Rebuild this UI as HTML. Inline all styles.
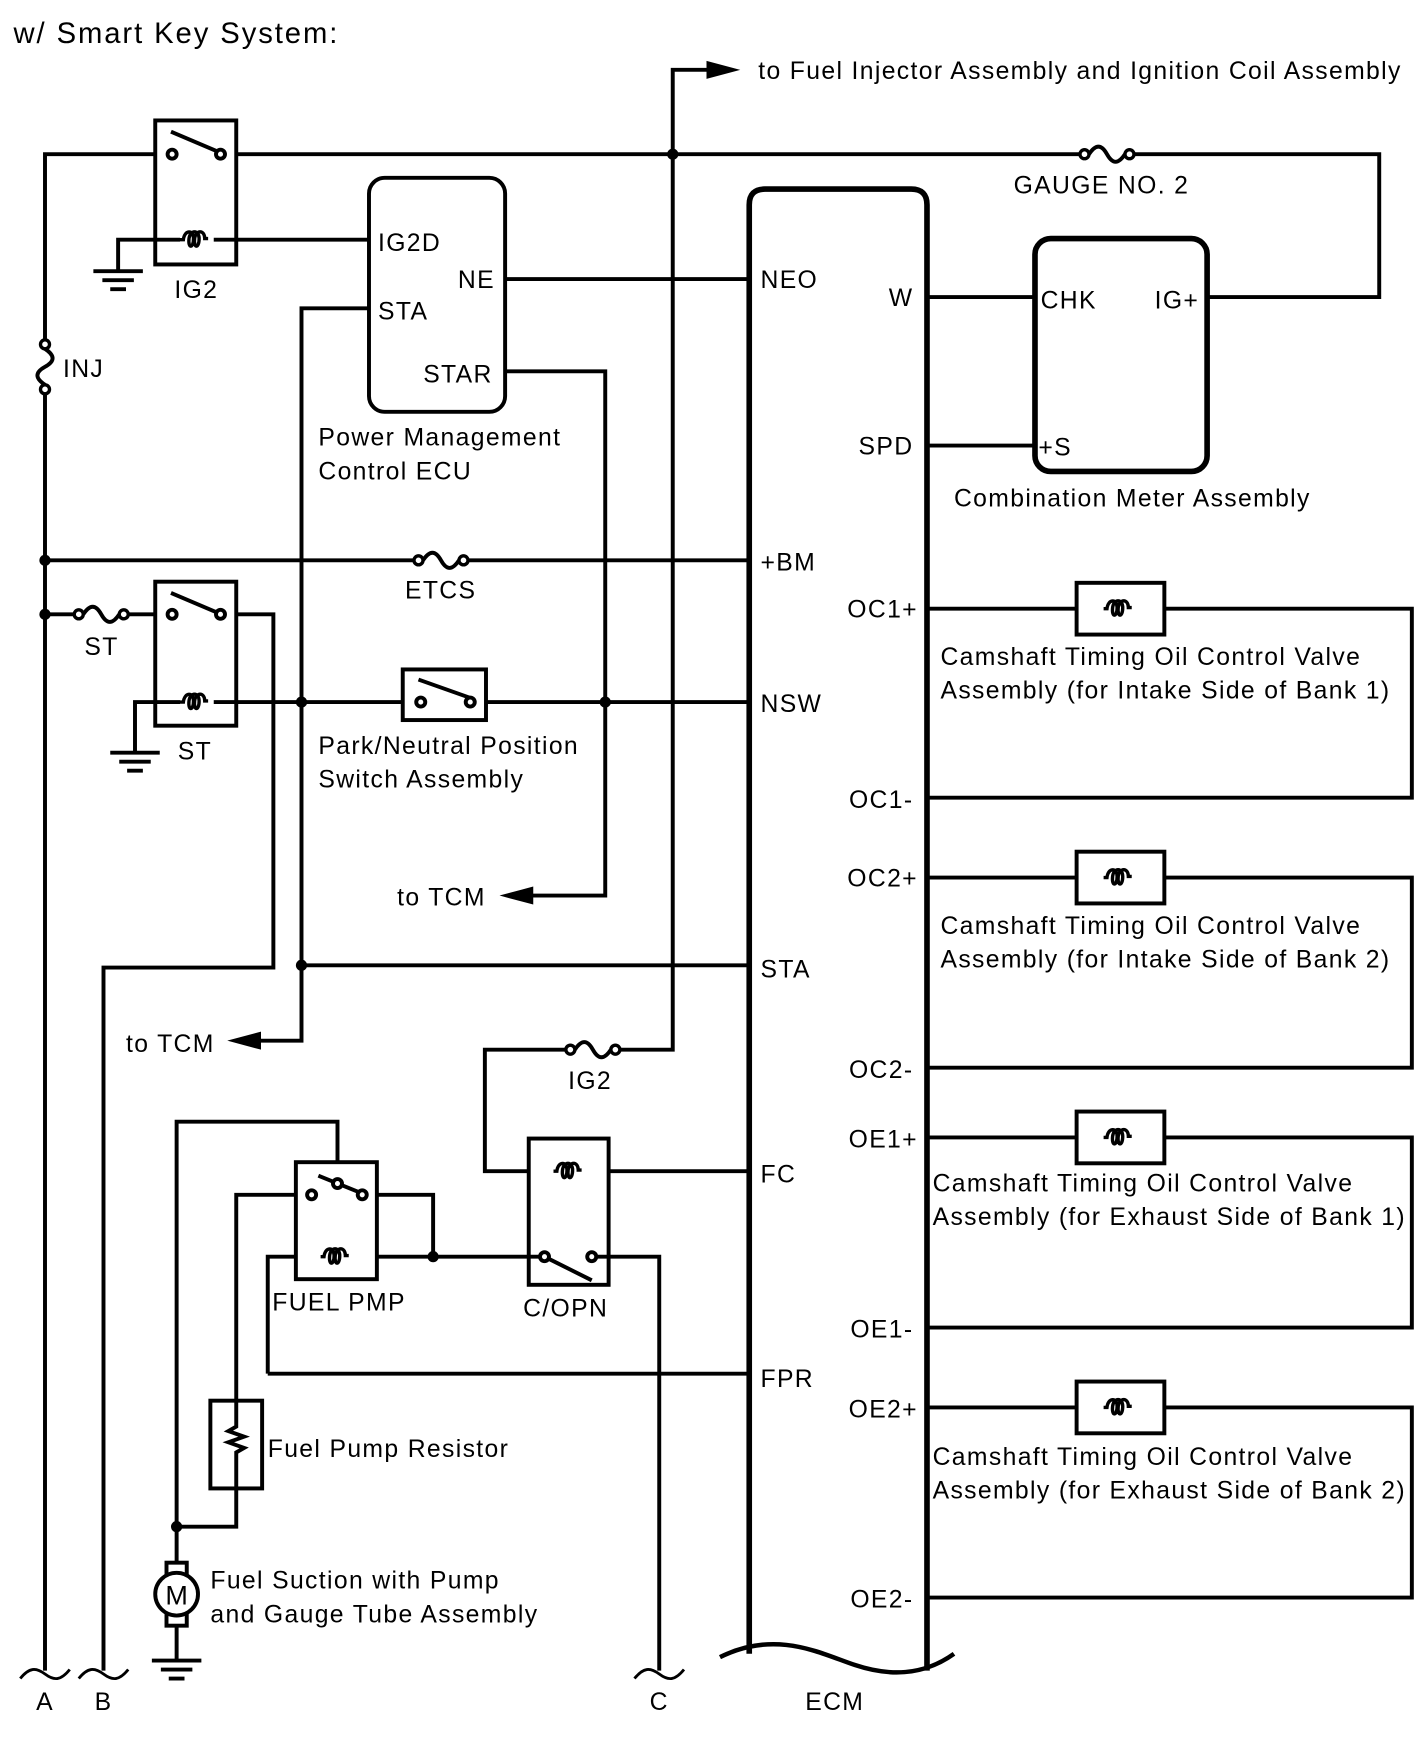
<!DOCTYPE html>
<html><head><meta charset="utf-8"><style>
html,body{margin:0;padding:0;background:#fff}
svg{display:block}
text{font-family:"Liberation Sans",Arial,sans-serif;fill:#000;letter-spacing:1.2px}
</style></head><body>
<svg width="1424" height="1763" viewBox="0 0 1265.8 1567" xmlns="http://www.w3.org/2000/svg">
<defs>
<g id="fuse"><circle cx="-20" cy="0" r="4" fill="#fff" stroke="#000" stroke-width="3"/><circle cx="20" cy="0" r="4" fill="#fff" stroke="#000" stroke-width="3"/><path d="M-16,0 C-10,-9 -5,-9 0,0 C5,9 10,9 16,0" fill="none" stroke="#000" stroke-width="3.5"/></g>
<g id="coil"><path d="M-15,0 h3 c1,-9 9,-9 9,-1 c0,9 -5,9 -4,0 c1,-8 9,-8 9,0 c0,9 -5,9 -4,0 c1,-8 9,-8 9,0 h3" fill="none" stroke="#000" stroke-width="3"/></g>
<g id="gnd"><path d="M-22,0 h44 M-14,8 h28 M-7,16 h14" stroke="#000" stroke-width="3.5"/></g>
<g id="valve"><rect x="-39" y="-23" width="78" height="46" fill="#fff" stroke="#000" stroke-width="3.5"/><use href="#coil"/></g>
</defs>
<g fill="none" stroke="#000" stroke-width="3.5" stroke-linejoin="miter">
<path d="M598,137 V62 H630"/>
<path d="M40,1485 V137 H1226 V264 H1073"/>
<rect x="138" y="107" width="72" height="128" fill="#fff"/>
<path d="M105,240 V213 H328"/>
<rect x="328" y="158" width="121" height="208" rx="14" fill="#fff"/>
<path d="M449,248 H666"/>
<path d="M328,274 H268 V925 H228"/>
<path d="M449,330 H538 V796 H470"/>
<path d="M40,498 H666"/>
<path d="M40,546 H138 M210,546 H243 V860 H92 V1485"/>
<rect x="138" y="517" width="72" height="128" fill="#fff"/>
<path d="M120,668 V624 H666"/>
<rect x="358" y="595" width="74" height="45" fill="#fff"/>
<path d="M268,858 H666"/>
<path d="M598,137 V933 H431 V1041 H666"/>
<rect x="470" y="1012" width="71" height="130" fill="#fff"/>
<path d="M526,1117 H586 V1485"/>
<path d="M300,1052 V997 H157 V1357 M157,1357 V1475"/>
<path d="M277,1062 H210 V1357 H157"/>
<path d="M322,1062 H385 V1117 M238,1221 V1117 H483 M238,1221 H666"/>
<rect x="263" y="1033" width="72" height="104" fill="#fff"/>
<rect x="187" y="1245" width="46" height="78" fill="#fff"/>
<path d="M210,1245 V1268 l-7,4 l14,5 l-14,5 l14,5 l-7,4 V1323"/>
<path d="M666,1470 V182 Q666,168 680,168 H810 Q824,168 824,182 V1485" stroke-width="5"/>
<path d="M640,1473 C690,1448 730,1470 760,1480 C790,1490 820,1490 848,1470" stroke-width="4"/>
<rect x="920" y="212" width="153" height="207" rx="14" fill="#fff" stroke-width="5"/>
<path d="M824,264 H920 M824,396 H920"/>
<path d="M824,541 H1255 V709 H824"/>
<path d="M824,780 H1255 V949 H824"/>
<path d="M824,1011 H1255 V1180 H824"/>
<path d="M824,1251 H1255 V1420 H824"/>
<path d="M18,1492 c8,-10 14,-10 22,-4 c8,6 14,6 22,-4 M70,1492 c8,-10 14,-10 22,-4 c8,6 14,6 22,-4 M564,1492 c8,-10 14,-10 22,-4 c8,6 14,6 22,-4" stroke-width="2.5"/>
</g>
<polygon points="628,54 658,62 628,70" fill="#000"/>
<polygon points="232,917 202,925 232,933" fill="#000"/>
<polygon points="474,788 444,796 474,804" fill="#000"/>
<g stroke="#fff" stroke-width="6"><path d="M964,137 H1004 M372,498 H412 M70,546 H110 M507,933 H547 M40,306 V346"/></g>
<use href="#fuse" x="984" y="137"/>
<use href="#fuse" x="392" y="498"/>
<use href="#fuse" x="90" y="546"/>
<use href="#fuse" x="527" y="933"/>
<use href="#fuse" transform="translate(40,326) rotate(90)"/>
<g stroke="#000" stroke-width="3.5" fill="#fff">
<path d="M152,117 L192,134"/><circle cx="153" cy="137" r="4"/><circle cx="196" cy="137" r="4"/>
<path d="M152,527 L192,544"/><circle cx="153" cy="546" r="4"/><circle cx="196" cy="546" r="4"/>
<path d="M372,604 L420,621"/><circle cx="374" cy="624" r="4"/><circle cx="418" cy="624" r="4"/>
<path d="M484,1117 L526,1138"/><circle cx="484" cy="1117" r="4"/><circle cx="526" cy="1117" r="4"/>
<path d="M283,1045 L320,1060"/><circle cx="277" cy="1062" r="4"/><circle cx="322" cy="1062" r="4"/><circle cx="300" cy="1052" r="4"/>
</g>
<g fill="#fff"><rect x="160" y="204" width="30" height="18" stroke="none"/><rect x="160" y="615" width="30" height="18" stroke="none"/><rect x="492" y="1032" width="30" height="18" stroke="none"/><rect x="285" y="1108" width="30" height="18" stroke="none"/></g>
<use href="#coil" x="175" y="213"/>
<use href="#coil" x="175" y="624"/>
<use href="#coil" x="507" y="1041"/>
<use href="#coil" x="300" y="1117"/>
<use href="#valve" x="996" y="541"/>
<use href="#valve" x="996" y="780"/>
<use href="#valve" x="996" y="1011"/>
<use href="#valve" x="996" y="1251"/>
<use href="#gnd" x="105" y="241"/>
<use href="#gnd" x="120" y="669"/>
<use href="#gnd" x="157" y="1476"/>
<rect x="148" y="1389" width="18" height="56" fill="#fff" stroke="#000" stroke-width="3.5"/>
<circle cx="157" cy="1417" r="19" fill="#fff" stroke="#000" stroke-width="3.5"/>
<text x="157" y="1426" font-size="24" text-anchor="middle" style="letter-spacing:0">M</text>
<g fill="#000"><circle cx="598" cy="137" r="5"/><circle cx="40" cy="498" r="5"/><circle cx="40" cy="546" r="5"/><circle cx="268" cy="624" r="5"/><circle cx="538" cy="624" r="5"/><circle cx="268" cy="858" r="5"/><circle cx="385" cy="1117" r="5"/><circle cx="157" cy="1357" r="5"/></g>
<g font-size="22">
<text x="12" y="38" font-size="26" style="letter-spacing:1.7px">w/ Smart Key System:</text>
<text x="674" y="70">to Fuel Injector Assembly and Ignition Coil Assembly</text>
<text x="901" y="172">GAUGE NO. 2</text>
<text x="155" y="265">IG2</text>
<text x="56" y="335">INJ</text>
<text x="336" y="223">IG2D</text>
<text x="440" y="256" text-anchor="end">NE</text>
<text x="336" y="284">STA</text>
<text x="438" y="340" text-anchor="end">STAR</text>
<text x="283" y="396">Power Management</text>
<text x="283" y="426">Control ECU</text>
<text x="676" y="256">NEO</text>
<text x="812" y="272" text-anchor="end">W</text>
<text x="812" y="404" text-anchor="end">SPD</text>
<text x="925" y="274">CHK</text>
<text x="1066" y="274" text-anchor="end">IG+</text>
<text x="923" y="405">+S</text>
<text x="848" y="450">Combination Meter Assembly</text>
<text x="676" y="507">+BM</text>
<text x="360" y="532">ETCS</text>
<text x="75" y="582">ST</text>
<text x="158" y="675">ST</text>
<text x="283" y="670">Park/Neutral Position</text>
<text x="283" y="700">Switch Assembly</text>
<text x="676" y="633">NSW</text>
<text x="353" y="805">to TCM</text>
<text x="676" y="869">STA</text>
<text x="112" y="935">to TCM</text>
<text x="505" y="968">IG2</text>
<text x="676" y="1051">FC</text>
<text x="242" y="1165">FUEL PMP</text>
<text x="465" y="1170">C/OPN</text>
<text x="676" y="1233">FPR</text>
<text x="238" y="1295">Fuel Pump Resistor</text>
<text x="187" y="1412">Fuel Suction with Pump</text>
<text x="187" y="1442">and Gauge Tube Assembly</text>
<text x="40" y="1520" text-anchor="middle">A</text>
<text x="92" y="1520" text-anchor="middle">B</text>
<text x="586" y="1520" text-anchor="middle">C</text>
<text x="742" y="1520" text-anchor="middle">ECM</text>
<g text-anchor="end">
<text x="816" y="549">OC1+</text>
<text x="812" y="718">OC1-</text>
<text x="816" y="788">OC2+</text>
<text x="812" y="958">OC2-</text>
<text x="816" y="1020">OE1+</text>
<text x="812" y="1189">OE1-</text>
<text x="816" y="1260">OE2+</text>
<text x="812" y="1429">OE2-</text>
</g>
<text x="836" y="591">Camshaft Timing Oil Control Valve</text>
<text x="836" y="621">Assembly (for Intake Side of Bank 1)</text>
<text x="836" y="830">Camshaft Timing Oil Control Valve</text>
<text x="836" y="860">Assembly (for Intake Side of Bank 2)</text>
<text x="829" y="1059">Camshaft Timing Oil Control Valve</text>
<text x="829" y="1089">Assembly (for Exhaust Side of Bank 1)</text>
<text x="829" y="1302">Camshaft Timing Oil Control Valve</text>
<text x="829" y="1332">Assembly (for Exhaust Side of Bank 2)</text>
</g>
</svg>
</body></html>
